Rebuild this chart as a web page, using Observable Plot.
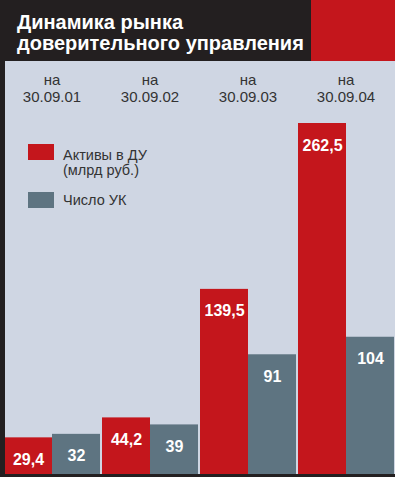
<!DOCTYPE html>
<html><head><meta charset="utf-8">
<script src="https://cdn.jsdelivr.net/npm/d3@7"></script>
<script src="https://cdn.jsdelivr.net/npm/@observablehq/plot@0.6"></script>
<style>
body{margin:0;background:#fff;}
#wrap{position:relative;width:395px;height:477px;overflow:hidden;background:#cfd6e3;font-family:"Liberation Sans",Arial,sans-serif;}
#chart{position:absolute;left:0;top:0;}
.hdr{position:absolute;left:0;top:0;width:311px;height:61px;background:#231f20;}
.redblk{position:absolute;left:311px;top:0;width:84px;height:61px;background:#c4161c;}
.title{position:absolute;left:17px;top:11.5px;color:#fff;font-weight:bold;font-size:20px;line-height:21px;white-space:nowrap;}
.lstripe{position:absolute;left:0;top:61px;width:5px;height:416px;background:#231f20;}
.bstripe{position:absolute;left:0;top:474px;width:395px;height:3px;background:#231f20;}
.sw{position:absolute;left:28px;width:26px;height:16px;}
.lt{position:absolute;left:63px;font-size:14.5px;line-height:15px;color:#333;white-space:nowrap;}
</style>
</head><body>
<div id="wrap">
  <div id="chart"></div>
  <div class="hdr"></div>
  <div class="redblk"></div>
  <div class="title" id="title"></div>
  <div class="lstripe"></div>
  <div class="bstripe"></div>
  <div class="sw" id="sw0" style="top:144px"></div>
  <div class="lt" id="lt0" style="top:147.5px"></div>
  <div class="sw" id="sw1" style="top:192px"></div>
  <div class="lt" id="lt1" style="top:193px"></div>
</div>
<script>
const titleLines = ["Динамика рынка", "доверительного управления"];
const dates = ["30.09.01", "30.09.02", "30.09.03", "30.09.04"];
const seriesNames = ["Активы в ДУ\n(млрд руб.)", "Число УК"];
const assets = [29.4, 44.2, 139.5, 262.5];
const firms = [32, 39, 91, 104];
const colors = ["#c4161c", "#5e7481"];

document.getElementById("title").innerHTML = titleLines.join("<br>");
document.getElementById("sw0").style.background = colors[0];
document.getElementById("sw1").style.background = colors[1];
document.getElementById("lt0").innerHTML = seriesNames[0].replace("\n", "<br>");
document.getElementById("lt1").innerHTML = seriesNames[1];

const fmt = v => String(v).replace(".", ",");
const data = [];
dates.forEach((d, i) => {
  data.push({date: d, series: seriesNames[0], value: assets[i]});
  data.push({date: d, series: seriesNames[1], value: firms[i]});
});

const chart = Plot.plot({
  width: 395,
  height: 477,
  marginTop: 123,
  marginBottom: 0,
  marginLeft: 1,
  marginRight: 0,
  style: {background: "transparent", fontFamily: "Liberation Sans, Arial, sans-serif"},
  fx: {domain: dates, paddingInner: 0.015, paddingOuter: 0, axis: null},
  x: {domain: seriesNames, padding: 0, axis: null},
  y: {domain: [0, 262.5], axis: null},
  color: {domain: seriesNames, range: colors},
  marks: [
    Plot.barY(data, {fx: "date", x: "series", y: "value", fill: "series"}),
    Plot.text(data, {fx: "date", x: "series", y: "value", text: d => fmt(d.value), dy: 22, fill: "white", fontWeight: "bold", fontSize: 16}),
    Plot.text(dates, {fx: d => d, text: d => "на\n" + d, frameAnchor: "top", lineAnchor: "bottom", dy: -22, lineHeight: 1.07, fontSize: 15, fill: "#333"})
  ]
});
document.getElementById("chart").appendChild(chart);
</script>
</body></html>
